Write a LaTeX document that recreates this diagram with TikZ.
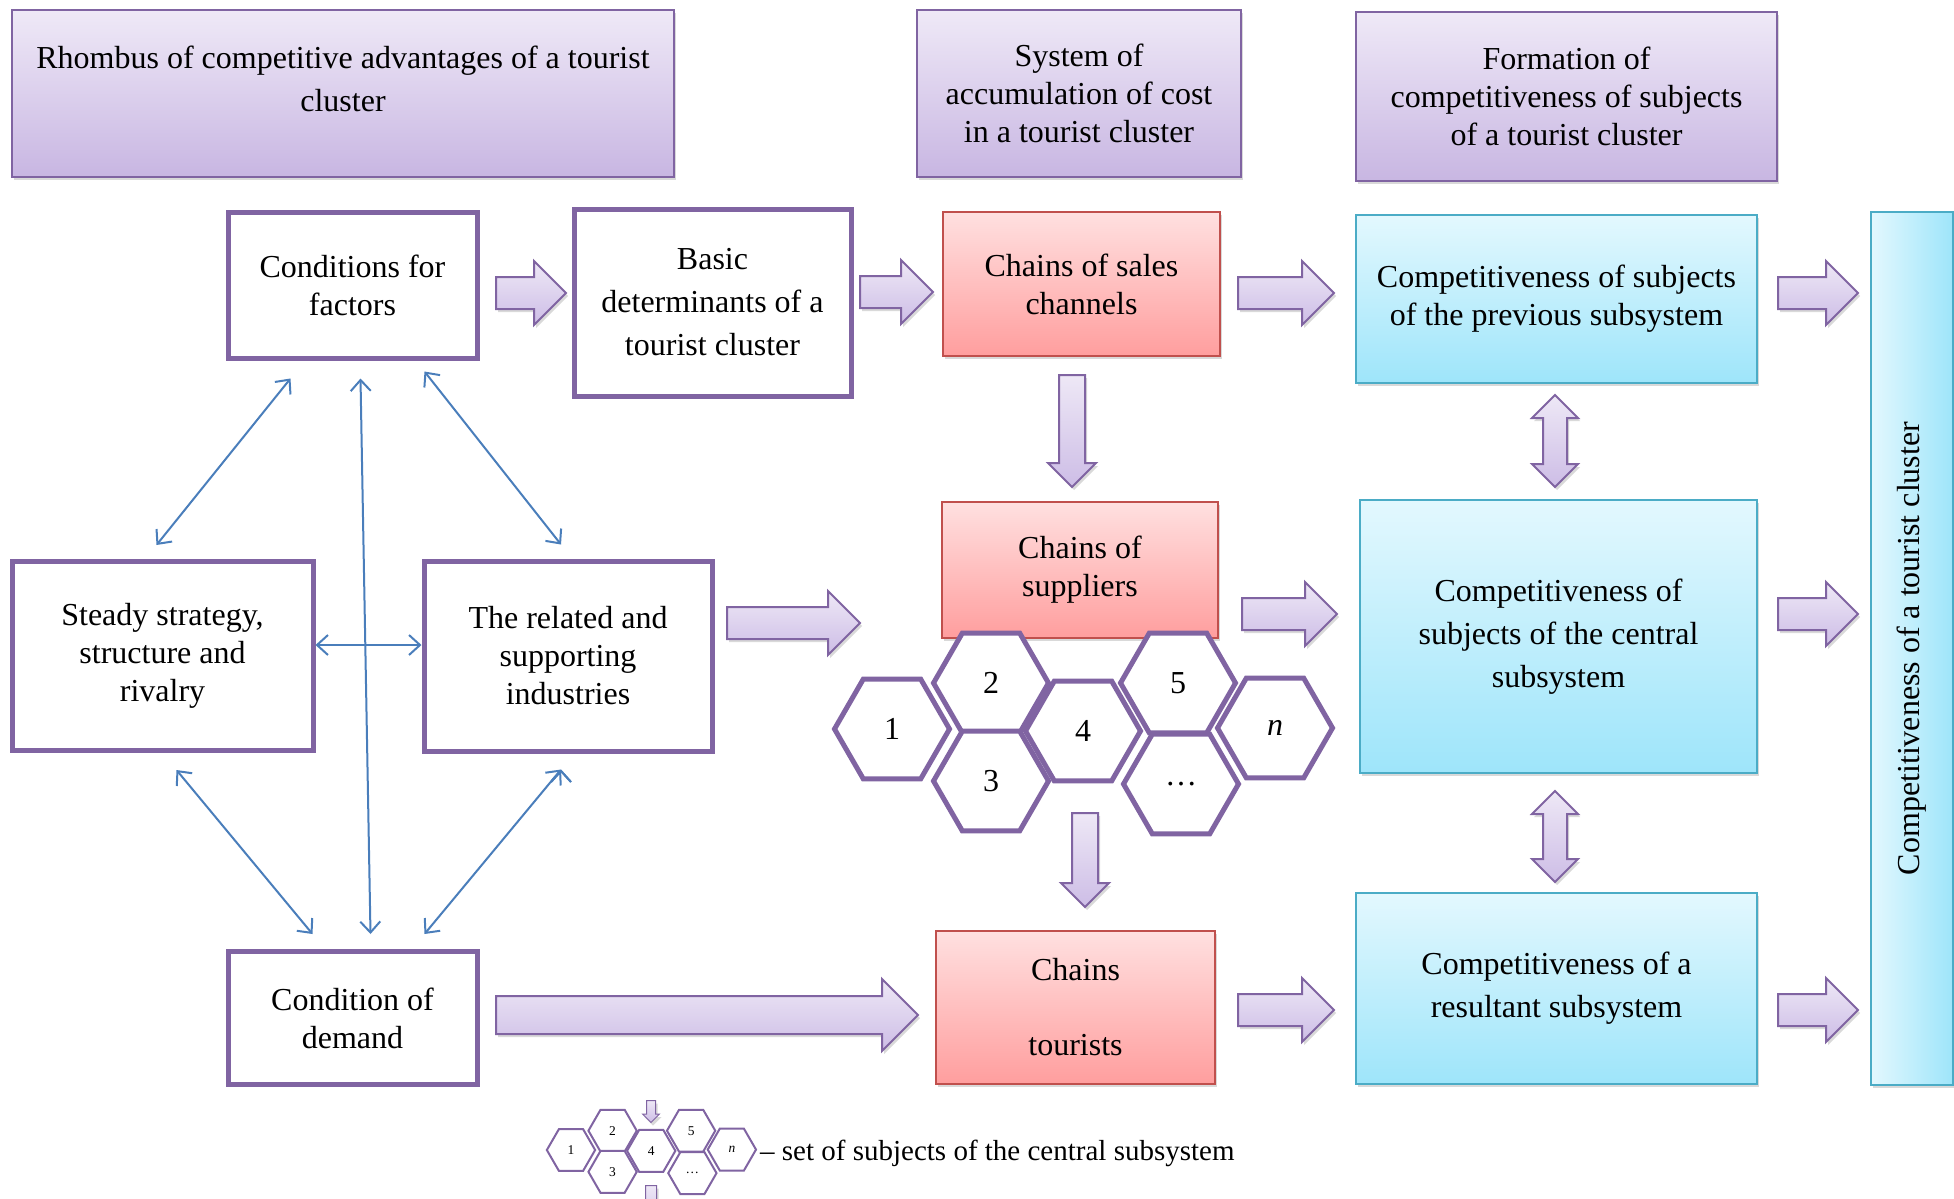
\documentclass[tikz,border=0pt]{standalone}
\usepackage{fontspec}
\setmainfont{Liberation Serif}
\usetikzlibrary{shapes.geometric,shapes.arrows,shadows,arrows.meta}
\definecolor{purp}{HTML}{8064A2}
\definecolor{ttop}{HTML}{EFE9F7}
\definecolor{tbot}{HTML}{C8B6E2}
\definecolor{atop}{HTML}{EEE8F6}
\definecolor{abot}{HTML}{CDBDE6}
\definecolor{redtop}{HTML}{FFE0E0}
\definecolor{redbot}{HTML}{FF9E9E}
\definecolor{redline}{HTML}{C0504D}
\definecolor{bluetop}{HTML}{E3F8FE}
\definecolor{bluebot}{HTML}{9EE5FA}
\definecolor{blueline}{HTML}{4BACC6}
\definecolor{linkblue}{HTML}{4A7EBB}
\begin{document}
\begin{tikzpicture}[x=1pt, y=-1pt,
    soft shadow/.style={drop shadow={opacity=0.3, shadow xshift=2pt, shadow yshift=-3pt}},
    box/.style={draw=purp, line width=5, fill=white, align=center},
    title/.style={draw=purp, line width=2.5, top color=ttop, bottom color=tbot, align=center, soft shadow},
    red box/.style={draw=redline, line width=2.5, top color=redtop, bottom color=redbot, align=center, soft shadow},
    blue box/.style={draw=blueline, line width=2.5, top color=bluetop, bottom color=bluebot, align=center, soft shadow},
    wide/.style={font=\fontsize{32}{43}\selectfont},
    hex/.style={regular polygon, regular polygon sides=6, draw=purp, line width=5, fill=white, inner sep=0, minimum size=115},
    fat/.style={single arrow, draw=purp, line width=2, top color=atop, bottom color=abot, inner xsep=0, inner ysep=15,
        single arrow head extend=16, minimum width=62, anchor=tail, soft shadow},
    fat down/.style={fat, shape border rotate=270, inner xsep=12, inner ysep=0, single arrow head extend=11, minimum width=46},
    fat both/.style={double arrow, draw=purp, line width=2, top color=atop, bottom color=abot, inner xsep=11, inner ysep=0,
        double arrow head extend=11, minimum width=44, shape border rotate=90, soft shadow},
    link/.style={{Straight Barb[length=11,width=20]}-{Straight Barb[length=11,width=20]}, draw=linkblue, line width=2}]
  \tikzstyle{every node}=[font=\fontsize{32}{38}\selectfont]
  \useasboundingbox (0,0) rectangle (1954,1199);

  \node[title, minimum width=662, minimum height=167] (t1) at (343,93.5) {};
  \node[wide, align=center] (t1 text) at (343,79) {Rhombus of competitive advantages of a tourist\\cluster};
  \node[title, minimum width=324, minimum height=167] (t2) at (1079,93.5) {System of\\accumulation of cost\\in a tourist cluster};
  \node[title, minimum width=421, minimum height=169] (t3) at (1566.5,96.5) {Formation of\\competitiveness of subjects\\of a tourist cluster};

  \node[box, minimum width=249, minimum height=146] (1) at (352.5,285) {Conditions for\\factors};
  \node[box, wide, minimum width=277, minimum height=187] (2) at (712.5,302.5) {Basic\\determinants of a\\tourist cluster};
  \node[red box, minimum width=277, minimum height=144] (3) at (1081.5,284) {Chains of sales\\channels};
  \node[blue box, minimum width=401, minimum height=168] (4) at (1556.5,299) {Competitiveness of subjects\\of the previous subsystem};
  \node[blue box, left color=bluetop, right color=bluebot, minimum width=82, minimum height=873] (5) at (1912,648.5) {};
  \node[rotate=90] (5 text) at (1912,648.5) {Competitiveness of a tourist cluster};
  \node[box, minimum width=301, minimum height=189] (6) at (162.5,656) {Steady strategy,\\structure and\\rivalry};
  \node[box, minimum width=288, minimum height=190] (7) at (568,656) {The related and\\supporting\\industries};
  \node[red box, minimum width=276, minimum height=136] (8) at (1080,570) {Chains of\\suppliers};
  \node[blue box, wide, minimum width=397, minimum height=273] (9) at (1558.5,636.5) {Competitiveness of\\subjects of the central\\subsystem};
  \node[box, minimum width=249, minimum height=133] (10) at (352.5,1018) {Condition of\\demand};
  \node[red box, minimum width=279, minimum height=153] (11) at (1075.5,1007.5) {Chains\\[37pt]tourists};
  \node[blue box, wide, minimum width=401, minimum height=191] (12) at (1556.5,988.5) {Competitiveness of a\\resultant subsystem};

  \begin{scope}[shift={(892,729)}]
    \foreach \n/\x/\y/\t in {1/0/0/1, 2/99/-46/2, 3/99/52/3, 4/191/2/4, 5/286/-46/5, 6/289/55/{\ldots}, 7/383/-1/{\textit{n}}}
      \node[hex] (hx\n) at (\x,\y) {\t};
  \end{scope}

  \node[fat, minimum height=70] (a1) at (495,293) {};
  \node[fat, minimum height=73] (a2) at (859,292) {};
  \node[fat, minimum height=96] (a3) at (1237,293) {};
  \node[fat, minimum height=80] (a4) at (1777,293) {};
  \node[fat, minimum height=133] (a5) at (726,623) {};
  \node[fat, minimum height=95] (a6) at (1241,614) {};
  \node[fat, minimum height=80] (a7) at (1777,614) {};
  \node[fat, minimum height=422, inner ysep=18, single arrow head extend=17, minimum width=70] (a8) at (495,1015) {};
  \node[fat, minimum height=96] (a9) at (1237,1010) {};
  \node[fat, minimum height=80] (a10) at (1777,1010) {};
  \node[fat down, minimum height=112] (d1) at (1072,374) {};
  \node[fat down, minimum height=94] (d2) at (1085,812) {};
  \node[fat both, minimum height=92] (b1) at (1555,441) {};
  \node[fat both, minimum height=91] (b2) at (1555,836.5) {};

  \path[link]
    ([shift={(-6,-14)}]6.north) edge ([shift={(-62,18)}]1.south)
    ([shift={(-7,-14)}]7.north) edge ([shift={(72,11)}]1.south)
    ([shift={(8,18)}]1.south) edge ([shift={(18,-15)}]10.north)
    ([shift={(0,-11)}]6.east) edge ([shift={(0,-11)}]7.west)
    ([shift={(14,17)}]6.south) edge ([shift={(-40,-15)}]10.north)
    ([shift={(-7,16)}]7.south) edge ([shift={(72,-15)}]10.north);

  \begin{scope}[shift={(571,1150)}, scale=0.42, transform shape]
    \foreach \n/\x/\y/\t in {1/0/0/1, 2/99/-46/2, 3/99/52/3, 4/191/2/4, 5/286/-46/5, 6/289/55/{\ldots}, 7/383/-1/{\textit{n}}}
      \node[hex, line width=2] (lx\n) at (\x,\y) {\t};
  \end{scope}
  \node[fat down, line width=1, minimum height=22, inner xsep=4, single arrow head extend=4, minimum width=16, drop shadow={opacity=0}] (la1) at (651,1100) {};
  \node[fat down, line width=1, minimum height=40, inner xsep=5, single arrow head extend=4, minimum width=18, drop shadow={opacity=0}] (la2) at (651,1185) {};
  \node[anchor=west, inner sep=0, font=\fontsize{29}{34}\selectfont] (legend) at (760,1153) {– set of subjects of the central subsystem};
\end{tikzpicture}
\end{document}
